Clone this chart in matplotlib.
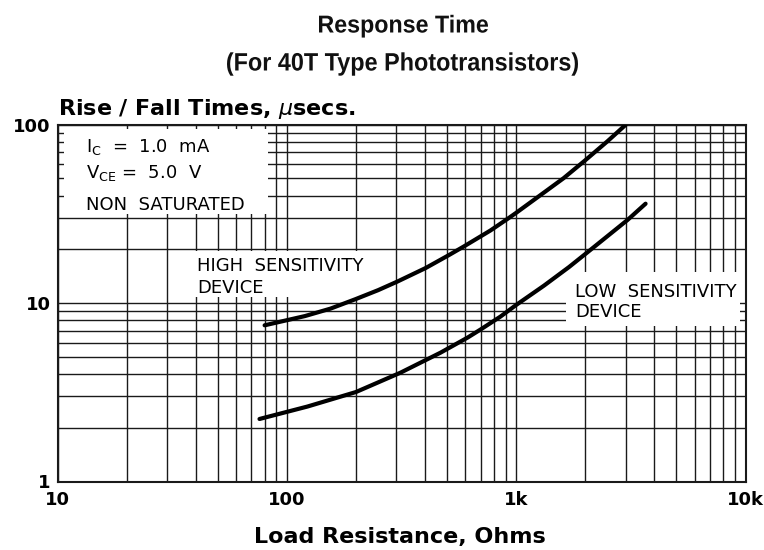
import matplotlib
matplotlib.use("Agg")
import matplotlib.pyplot as plt
from matplotlib.ticker import FixedLocator, NullFormatter
from matplotlib.patches import Rectangle, PathPatch
from matplotlib.textpath import TextPath
from matplotlib.transforms import Affine2D, IdentityTransform
from matplotlib.font_manager import FontProperties

# courbes (R en ohms, temps en microsecondes)
r_high = [80, 120, 155, 199, 250, 304, 403, 507, 590, 773, 917, 1000, 1252, 1609, 2000, 2500, 3000]
t_high = [7.5, 8.45, 9.3, 10.5, 11.8, 13.2, 15.7, 18.5, 20.7, 25.5, 29.6, 32, 39.5, 50, 63, 80.5, 99.5]

r_low = [76, 123, 200, 313, 468, 614, 699, 855, 1000, 1321, 1700, 2042, 3060, 3667]
t_low = [2.24, 2.63, 3.17, 4.07, 5.27, 6.4, 7.1, 8.4, 9.75, 12.5, 15.9, 19.2, 29.2, 36.0]

x_ticks = [10, 100, 1000, 10000]
x_labels = ["10", "100", "1k", "10k"]
y_ticks = [1, 10, 100]
y_labels = ["1", "10", "100"]

W, H = 764, 550
fig = plt.figure(figsize=(W / 100, H / 100), dpi=100)
ax = fig.add_axes([57.5 / W, (H - 481.5) / H, 688 / W, 357 / H])

ax.set_xscale("log")
ax.set_yscale("log")
ax.set_xlim(10, 10000)
ax.set_ylim(1, 100)

minor_x = [m * 10 ** d for d in range(1, 4) for m in range(2, 10)]
minor_y = [m * 10 ** d for d in range(0, 2) for m in range(2, 10)]
ax.xaxis.set_major_locator(FixedLocator(x_ticks))
ax.yaxis.set_major_locator(FixedLocator(y_ticks))
ax.xaxis.set_minor_locator(FixedLocator(minor_x))
ax.yaxis.set_minor_locator(FixedLocator(minor_y))
ax.xaxis.set_minor_formatter(NullFormatter())
ax.yaxis.set_minor_formatter(NullFormatter())
ax.set_xticklabels(x_labels, fontweight="bold", fontsize=13)
ax.set_yticklabels(y_labels, fontweight="bold", fontsize=13)
ax.tick_params(axis="x", which="both", length=0, pad=6.5)
ax.tick_params(axis="y", which="both", length=0, pad=5)

ax.set_axisbelow(True)
ax.grid(True, which="both", color="#1a1a1a", linewidth=1.0)
for s in ax.spines.values():
    s.set_linewidth(1.5)
    s.set_color("#1a1a1a")

ax.plot(r_high, t_high, color="black", linewidth=3, solid_capstyle="round",
        solid_joinstyle="round", zorder=5)
ax.plot(r_low, t_low, color="black", linewidth=3, solid_capstyle="round",
        solid_joinstyle="round", zorder=5)

# fonds blancs sous les textes
for (x0, x1, y0, y1) in [(0.010, 0.306, 0.749, 0.987),
                         (0.193, 0.443, 0.517, 0.6457),
                         (0.739, 0.992, 0.4356, 0.587)]:
    ax.add_patch(Rectangle((x0, y0), x1 - x0, y1 - y0, transform=ax.transAxes,
                           facecolor="white", edgecolor="none", zorder=3))

fs = 13
ax.text(0.0407, 0.923, "I$_\\mathregular{C}$  =  1.0  mA", transform=ax.transAxes,
        va="baseline", fontsize=fs, zorder=6)
ax.text(0.0407, 0.850, "V$_\\mathregular{CE}$ =  5.0  V", transform=ax.transAxes,
        va="baseline", fontsize=fs, zorder=6)
ax.text(0.0407, 0.7605, "NON  SATURATED", transform=ax.transAxes,
        va="baseline", fontsize=fs, zorder=6)
ax.text(0.2033, 0.5896, "HIGH  SENSITIVITY", transform=ax.transAxes,
        va="baseline", fontsize=fs, zorder=6)
ax.text(0.2033, 0.528, "DEVICE", transform=ax.transAxes,
        va="baseline", fontsize=fs, zorder=6)
ax.text(0.7524, 0.5168, "LOW  SENSITIVITY", transform=ax.transAxes,
        va="baseline", fontsize=fs, zorder=6)
ax.text(0.7524, 0.4608, "DEVICE", transform=ax.transAxes,
        va="baseline", fontsize=fs, zorder=6)

fig.text(57.5 / W, (H - 115) / H, "Rise / Fall Times, $\\mu$secs.", fontweight="bold",
         fontsize=16, ha="left", va="baseline")
fig.text(400 / W, (H - 543) / H, "Load Resistance, Ohms", fontweight="bold",
         fontsize=16, ha="center", va="baseline")


# titre en police étroite : on comprime le texte horizontalement
def titre_etroit(txt, cx, base, largeur, cap):
    fp = FontProperties(family="Liberation Sans", weight="bold")
    tp = TextPath((0, 0), txt, size=100, prop=fp)
    bb = tp.get_extents()
    sx = largeur / bb.width
    sy = cap / 71.6
    tr = Affine2D().translate(-(bb.x0 + bb.width / 2), 0).scale(sx, sy).translate(cx, H - base)
    fig.add_artist(PathPatch(tr.transform_path(tp), transform=IdentityTransform(),
                             facecolor="#111111", edgecolor="none"))


titre_etroit("Response Time", 403.5, 32.5, 169, 17.5)
titre_etroit("(For 40T Type Phototransistors)", 402.5, 70.5, 351, 18)

fig.savefig("out.png", dpi=100)
